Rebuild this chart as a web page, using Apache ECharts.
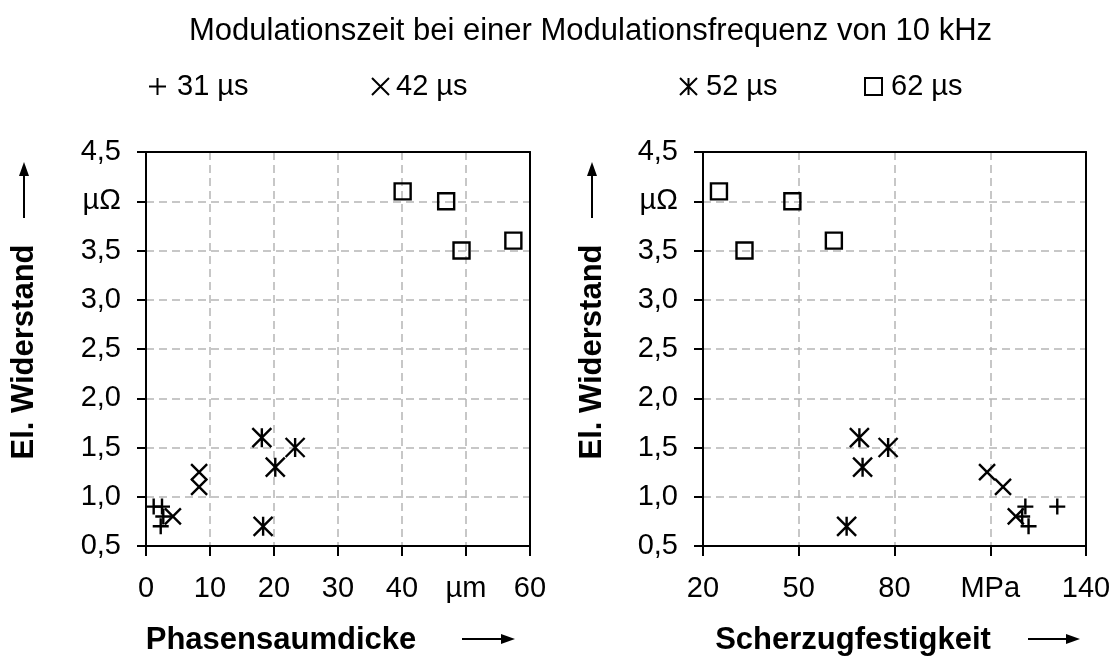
<!DOCTYPE html>
<html>
<head>
<meta charset="utf-8">
<script src="https://cdn.jsdelivr.net/npm/echarts@6/dist/echarts.min.js"></script>
<style>html,body{margin:0;padding:0;background:#fff}#c{width:1117px;height:659px}</style>
</head>
<body>
<div id="c"></div>
<script>
// ---- data ----
const seriesNames = ['31 µs', '42 µs', '52 µs', '62 µs'];
// Phasensaumdicke (µm)
const thick31 = [1.2, 2.5, 2.7, 2.3];
const thick42 = [8.3, 8.3, 4.2];
const thick52 = [18.1, 23.3, 20.2, 18.3];
const thick62 = [40.1, 46.9, 49.3, 57.4];
// Scherzugfestigkeit (MPa)
const shear31 = [121, 131, 120, 122];
const shear42 = [109, 114, 118];
const shear52 = [69, 78, 70, 65];
const shear62 = [25, 48, 33, 61];
// El. Widerstand (µΩ)
const res31 = [0.9, 0.9, 0.8, 0.7];
const res42 = [1.25, 1.1, 0.8];
const res52 = [1.6, 1.5, 1.3, 0.7];
const res62 = [4.1, 4.0, 3.5, 3.6];
// tick label replacements
const yUnitLabel = {4: 'µΩ'};
const xLeftUnitLabel = {50: 'µm'};
const xRightUnitLabel = {110: 'MPa'};

const FONT = 'Liberation Sans, Arial, sans-serif';
const pair = (xs, ys) => xs.map((x, i) => [x, ys[i]]);

const symbols = [
  'path://M0 5 L10 5 M5 0 L5 10',
  'path://M0 0 L10 10 M10 0 L0 10',
  'path://M0 0 L10 10 M10 0 L0 10 M5 0 L5 10',
  'path://M0 0 L10 0 L10 10 L0 10 Z'
];
const sizes = [[16, 16], [16, 16], [19, 19], [16, 16]];

const leftData = [pair(thick31, res31), pair(thick42, res42), pair(thick52, res52), pair(thick62, res62)];
const rightData = [pair(shear31, res31), pair(shear42, res42), pair(shear52, res52), pair(shear62, res62)];

function mkSeries(dataArr, idx) {
  return dataArr.map((d, i) => ({
    name: seriesNames[i], type: 'scatter', xAxisIndex: idx, yAxisIndex: idx,
    symbol: symbols[i], symbolSize: sizes[i], data: d,
    itemStyle: {color: 'rgba(255,255,255,0)', borderColor: '#000', borderWidth: 2.4, opacity: 1},
    emphasis: {disabled: true}, z: 5
  }));
}

const splitStyle = {show: true, lineStyle: {color: '#b5b5b5', width: 1.5, type: [8, 5]}};
const axisLineStyle = {show: true, onZero: false, lineStyle: {color: '#000', width: 2}};
const labelFont = {color: '#000', fontSize: 29, fontFamily: FONT};

function yAxis(idx) {
  return {type: 'value', gridIndex: idx, min: 0.5, max: 4.5, interval: 0.5,
    axisLine: axisLineStyle, axisTick: {show: true, length: 9, lineStyle: {color: '#000', width: 2}},
    splitLine: splitStyle,
    axisLabel: Object.assign({margin: 25, formatter: v => yUnitLabel[v] || v.toFixed(1).replace('.', ',')}, labelFont)};
}
function xAxis(idx, min, max, interval, unitMap) {
  return {type: 'value', gridIndex: idx, min: min, max: max, interval: interval,
    axisLine: axisLineStyle, axisTick: {show: true, length: 10, lineStyle: {color: '#000', width: 2}},
    splitLine: splitStyle,
    axisLabel: Object.assign({margin: 28, formatter: v => unitMap[v] || String(v)}, labelFont)};
}
// frame axes (top / right) drawn as solid black lines
function frameX(idx, min, max) {
  return {type: 'value', gridIndex: idx, min: min, max: max, position: 'top', z: 10,
    axisLine: axisLineStyle, axisTick: {show: false}, axisLabel: {show: false}, splitLine: {show: false}};
}
function frameY(idx) {
  return {type: 'value', gridIndex: idx, min: 0.5, max: 4.5, position: 'right', z: 10,
    axisLine: axisLineStyle, axisTick: {show: false}, axisLabel: {show: false}, splitLine: {show: false}};
}

function legendAt(name, left, gap) {
  return {data: [name], left: left, top: 67, itemWidth: 17, itemHeight: 17, itemGap: 4,
    selectedMode: false, textStyle: {fontSize: 29, fontFamily: FONT, color: '#000', padding: [0, 0, 0, gap]}};
}

function arrowUp(cx, yTop, yBot) {
  return [
    {type: 'line', shape: {x1: cx, y1: yBot, x2: cx, y2: yTop + 10}, style: {stroke: '#000', lineWidth: 2}},
    {type: 'polygon', shape: {points: [[cx, yTop], [cx - 5, yTop + 14], [cx + 5, yTop + 14]]}, style: {fill: '#000'}}
  ];
}
function arrowRight(cy, xL, xR) {
  return [
    {type: 'line', shape: {x1: xL, y1: cy, x2: xR - 10, y2: cy}, style: {stroke: '#000', lineWidth: 2}},
    {type: 'polygon', shape: {points: [[xR, cy], [xR - 14, cy - 5], [xR - 14, cy + 5]]}, style: {fill: '#000'}}
  ];
}
const boldName = {fontSize: 31, fontWeight: 'bold', fontFamily: FONT, fill: '#000'};

const chart = echarts.init(document.getElementById('c'));
chart.setOption({
  backgroundColor: '#fff',
  animation: false,
  title: {text: 'Modulationszeit bei einer Modulationsfrequenz von 10 kHz', left: 184, top: 11,
    textStyle: {fontSize: 31, fontWeight: 'normal', fontFamily: FONT, color: '#000'}},
  legend: [legendAt(seriesNames[0], 143, 6), legendAt(seriesNames[1], 366, 2), legendAt(seriesNames[2], 674, 4), legendAt(seriesNames[3], 859, 4)],
  grid: [
    {left: 146, right: 587, top: 152, bottom: 113},
    {left: 703, right: 31, top: 152, bottom: 113}
  ],
  xAxis: [xAxis(0, 0, 60, 10, xLeftUnitLabel), xAxis(1, 20, 140, 30, xRightUnitLabel), frameX(0, 0, 60), frameX(1, 20, 140)],
  yAxis: [yAxis(0), yAxis(1), frameY(0), frameY(1)],
  series: mkSeries(leftData, 0).concat(mkSeries(rightData, 1)),
  graphic: [
    {type: 'text', x: 24, y: 352, rotation: Math.PI / 2, style: Object.assign({text: 'El. Widerstand', align: 'center', verticalAlign: 'middle'}, boldName)},
    {type: 'text', x: 592, y: 352, rotation: Math.PI / 2, style: Object.assign({text: 'El. Widerstand', align: 'center', verticalAlign: 'middle'}, boldName)},
    {type: 'text', x: 281, y: 640, style: Object.assign({text: 'Phasensaumdicke', align: 'center', verticalAlign: 'middle'}, boldName)},
    {type: 'text', x: 853, y: 640, style: Object.assign({text: 'Scherzugfestigkeit', align: 'center', verticalAlign: 'middle'}, boldName)}
  ].concat(arrowUp(24, 162, 218), arrowUp(592, 162, 218), arrowRight(639, 462, 515), arrowRight(639, 1028, 1080))
});
</script>
</body>
</html>
